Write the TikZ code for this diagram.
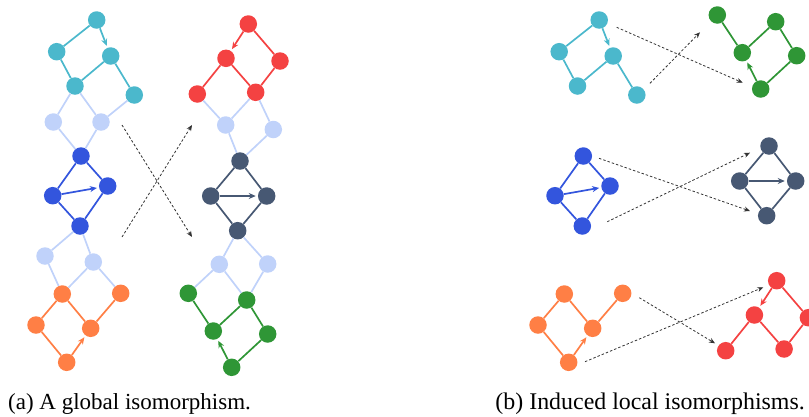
\documentclass[tikz,border=0pt]{standalone}
\usepackage{fontspec}
\setmainfont{Liberation Serif}
\usetikzlibrary{arrows.meta}

\definecolor{gcyan}{HTML}{4BB8CC}
\definecolor{glight}{HTML}{C0D2FA}
\definecolor{gblue}{HTML}{3355DD}
\definecolor{gslate}{HTML}{475873}
\definecolor{gorange}{HTML}{FF7F45}
\definecolor{gred}{HTML}{F44242}
\definecolor{ggreen}{HTML}{2F9636}

\begin{document}
\begin{tikzpicture}[x=1pt,y=-1pt,>={Stealth[length=7pt,width=6pt]},
	vx/.style={circle, fill=#1, inner sep=0pt, minimum size=17.5pt},
	ed/.style={draw=#1, line width=1.7pt},
	dir/.style={->, shorten >=2pt},
	mapto/.style={-{Stealth[length=6pt,width=5pt]}, line width=0.8pt, black!80, dash pattern=on 2.5pt off 2pt}]
	\useasboundingbox (0,0) rectangle (809,416);

	% (a) left graph
	\node[vx=gcyan] (ca) at (96.7,20) {};
	\node[vx=gcyan] (cb) at (56.7,51.7) {};
	\node[vx=gcyan] (cc) at (110.7,56) {};
	\node[vx=gcyan] (cd) at (75,86) {};
	\node[vx=gcyan] (ce) at (134.3,95) {};
	\node[vx=glight] (la) at (53.3,122) {};
	\node[vx=glight] (lb) at (101,122) {};
	\node[vx=gblue] (ba) at (81,156) {};
	\node[vx=gblue] (bb) at (52.7,195.7) {};
	\node[vx=gblue] (bc) at (107.7,186) {};
	\node[vx=gblue] (bd) at (80,226) {};
	\node[vx=glight] (lc) at (45,256) {};
	\node[vx=glight] (ld) at (93.3,262) {};
	\node[vx=gorange] (oa) at (62.3,294) {};
	\node[vx=gorange] (ob) at (120.7,293.3) {};
	\node[vx=gorange] (oc) at (36,325) {};
	\node[vx=gorange] (od) at (90.7,328.3) {};
	\node[vx=gorange] (oe) at (66.7,362.3) {};

	\draw[ed=gcyan,dir] (ca) -- (cc);
	\draw[ed=gcyan] (ca) -- (cb);
	\draw[ed=gcyan] (cb) -- (cd);
	\draw[ed=gcyan] (cc) -- (cd);
	\draw[ed=gcyan] (cc) -- (ce);
	\draw[ed=glight] (cd) -- (la);
	\draw[ed=glight] (cd) -- (lb);
	\draw[ed=glight] (ce) -- (lb);
	\draw[ed=glight] (la) -- (ba);
	\draw[ed=glight] (lb) -- (ba);
	\draw[ed=gblue] (ba) -- (bb);
	\draw[ed=gblue] (ba) -- (bc);
	\draw[ed=gblue,dir] (bb) -- (bc);
	\draw[ed=gblue] (bb) -- (bd);
	\draw[ed=gblue] (bc) -- (bd);
	\draw[ed=glight] (bd) -- (lc);
	\draw[ed=glight] (bd) -- (ld);
	\draw[ed=glight] (lc) -- (oa);
	\draw[ed=glight] (ld) -- (oa);
	\draw[ed=glight] (ld) -- (ob);
	\draw[ed=gorange] (oa) -- (oc);
	\draw[ed=gorange] (oa) -- (od);
	\draw[ed=gorange] (ob) -- (od);
	\draw[ed=gorange] (oc) -- (oe);
	\draw[ed=gorange,dir] (oe) -- (od);

	% (a) right graph
	\node[vx=gred] (ra) at (248.3,24) {};
	\node[vx=gred] (rb) at (226,58.3) {};
	\node[vx=gred] (rc) at (280,61) {};
	\node[vx=gred] (rd) at (197.3,94) {};
	\node[vx=gred] (re) at (255.7,92.3) {};
	\node[vx=glight] (ma) at (225.7,125) {};
	\node[vx=glight] (mb) at (273.3,129.5) {};
	\node[vx=gslate] (sa) at (240,161) {};
	\node[vx=gslate] (sb) at (210.7,196) {};
	\node[vx=gslate] (sc) at (266.7,196) {};
	\node[vx=gslate] (sd) at (237.7,230.7) {};
	\node[vx=glight] (mc) at (219.3,264.3) {};
	\node[vx=glight] (md) at (267.7,264) {};
	\node[vx=ggreen] (ga) at (188.3,293.3) {};
	\node[vx=ggreen] (gb) at (213.3,331) {};
	\node[vx=ggreen] (gc) at (246.7,300) {};
	\node[vx=ggreen] (gd) at (267.7,334) {};
	\node[vx=ggreen] (ge) at (231.7,367.3) {};

	\draw[ed=gred,dir] (ra) -- (rb);
	\draw[ed=gred] (ra) -- (rc);
	\draw[ed=gred] (rb) -- (rd);
	\draw[ed=gred] (rb) -- (re);
	\draw[ed=gred] (rc) -- (re);
	\draw[ed=glight] (rd) -- (ma);
	\draw[ed=glight] (re) -- (ma);
	\draw[ed=glight] (re) -- (mb);
	\draw[ed=glight] (ma) -- (sa);
	\draw[ed=glight] (mb) -- (sa);
	\draw[ed=gslate] (sa) -- (sb);
	\draw[ed=gslate] (sa) -- (sc);
	\draw[ed=gslate,dir] (sb) -- (sc);
	\draw[ed=gslate] (sb) -- (sd);
	\draw[ed=gslate] (sc) -- (sd);
	\draw[ed=glight] (sd) -- (mc);
	\draw[ed=glight] (sd) -- (md);
	\draw[ed=glight] (mc) -- (ga);
	\draw[ed=glight] (mc) -- (gc);
	\draw[ed=glight] (md) -- (gc);
	\draw[ed=ggreen] (ga) -- (gb);
	\draw[ed=ggreen] (gc) -- (gb);
	\draw[ed=ggreen] (gc) -- (gd);
	\draw[ed=ggreen] (gd) -- (ge);
	\draw[ed=ggreen,dir] (ge) -- (gb);

	\coordinate (xa1) at (122,125);
	\coordinate (xa2) at (192,237);
	\coordinate (xb1) at (122,237);
	\coordinate (xb2) at (192,125);
	\draw[mapto] (xa1) -- (xa2);
	\draw[mapto] (xb1) -- (xb2);

	% (b) pieces
	\node[vx=gcyan] (Ca) at (599.2,20) {};
	\node[vx=gcyan] (Cb) at (559.2,51.7) {};
	\node[vx=gcyan] (Cc) at (613.2,56) {};
	\node[vx=gcyan] (Cd) at (577.5,86) {};
	\node[vx=gcyan] (Ce) at (636.8,95) {};
	\draw[ed=gcyan,dir] (Ca) -- (Cc);
	\draw[ed=gcyan] (Ca) -- (Cb);
	\draw[ed=gcyan] (Cb) -- (Cd);
	\draw[ed=gcyan] (Cc) -- (Cd);
	\draw[ed=gcyan] (Cc) -- (Ce);

	\node[vx=ggreen] (Ga) at (717.3,15) {};
	\node[vx=ggreen] (Gb) at (742.3,52.7) {};
	\node[vx=ggreen] (Gc) at (775.7,21.7) {};
	\node[vx=ggreen] (Gd) at (796.7,55.7) {};
	\node[vx=ggreen] (Ge) at (760.7,89) {};
	\draw[ed=ggreen] (Ga) -- (Gb);
	\draw[ed=ggreen] (Gc) -- (Gb);
	\draw[ed=ggreen] (Gc) -- (Gd);
	\draw[ed=ggreen] (Gd) -- (Ge);
	\draw[ed=ggreen,dir] (Ge) -- (Gb);

	\node[vx=gblue] (Ba) at (583.3,156) {};
	\node[vx=gblue] (Bb) at (555,195.7) {};
	\node[vx=gblue] (Bc) at (610,186) {};
	\node[vx=gblue] (Bd) at (582.3,226) {};
	\draw[ed=gblue] (Ba) -- (Bb);
	\draw[ed=gblue] (Ba) -- (Bc);
	\draw[ed=gblue,dir] (Bb) -- (Bc);
	\draw[ed=gblue] (Bb) -- (Bd);
	\draw[ed=gblue] (Bc) -- (Bd);

	\node[vx=gslate] (Sa) at (769,146) {};
	\node[vx=gslate] (Sb) at (739.7,181) {};
	\node[vx=gslate] (Sc) at (795.7,181) {};
	\node[vx=gslate] (Sd) at (766.7,215.7) {};
	\draw[ed=gslate] (Sa) -- (Sb);
	\draw[ed=gslate] (Sa) -- (Sc);
	\draw[ed=gslate,dir] (Sb) -- (Sc);
	\draw[ed=gslate] (Sb) -- (Sd);
	\draw[ed=gslate] (Sc) -- (Sd);

	\node[vx=gorange] (Oa) at (564.3,294) {};
	\node[vx=gorange] (Ob) at (622.7,293.3) {};
	\node[vx=gorange] (Oc) at (538,325) {};
	\node[vx=gorange] (Od) at (592.7,328.3) {};
	\node[vx=gorange] (Oe) at (568.7,362.3) {};
	\draw[ed=gorange] (Oa) -- (Oc);
	\draw[ed=gorange] (Oa) -- (Od);
	\draw[ed=gorange] (Ob) -- (Od);
	\draw[ed=gorange] (Oc) -- (Oe);
	\draw[ed=gorange,dir] (Oe) -- (Od);

	\node[vx=gred] (Ra) at (776.7,280.7) {};
	\node[vx=gred] (Rb) at (754.4,315) {};
	\node[vx=gred] (Rc) at (808.4,317.7) {};
	\node[vx=gred] (Rd) at (725.7,350.7) {};
	\node[vx=gred] (Re) at (784.1,349) {};
	\draw[ed=gred,dir] (Ra) -- (Rb);
	\draw[ed=gred] (Ra) -- (Rc);
	\draw[ed=gred] (Rb) -- (Rd);
	\draw[ed=gred] (Rb) -- (Re);
	\draw[ed=gred] (Rc) -- (Re);

	\coordinate (ya1) at (616.7,27.3);
	\coordinate (ya2) at (742.7,82.7);
	\coordinate (yb1) at (650,83.3);
	\coordinate (yb2) at (700,32.3);
	\coordinate (yc1) at (599,158.3);
	\coordinate (yc2) at (750,211);
	\coordinate (yd1) at (607.3,221.7);
	\coordinate (yd2) at (750,152.7);
	\coordinate (ye1) at (639.3,297.7);
	\coordinate (ye2) at (715,343.3);
	\coordinate (yf1) at (585,361.7);
	\coordinate (yf2) at (763.3,287.3);
	\draw[mapto] (ya1) -- (ya2);
	\draw[mapto] (yb1) -- (yb2);
	\draw[mapto] (yc1) -- (yc2);
	\draw[mapto] (yd1) -- (yd2);
	\draw[mapto] (ye1) -- (ye2);
	\draw[mapto] (yf1) -- (yf2);

	% captions
	\node[anchor=base west, inner sep=0pt, font=\fontsize{23}{26}\selectfont] (capa) at (8,409) {(a) A global isomorphism.};
	\node[anchor=base east, inner sep=0pt, font=\fontsize{23.9}{27}\selectfont] (capb) at (805,409) {(b) Induced local isomorphisms.};
\end{tikzpicture}
\end{document}
